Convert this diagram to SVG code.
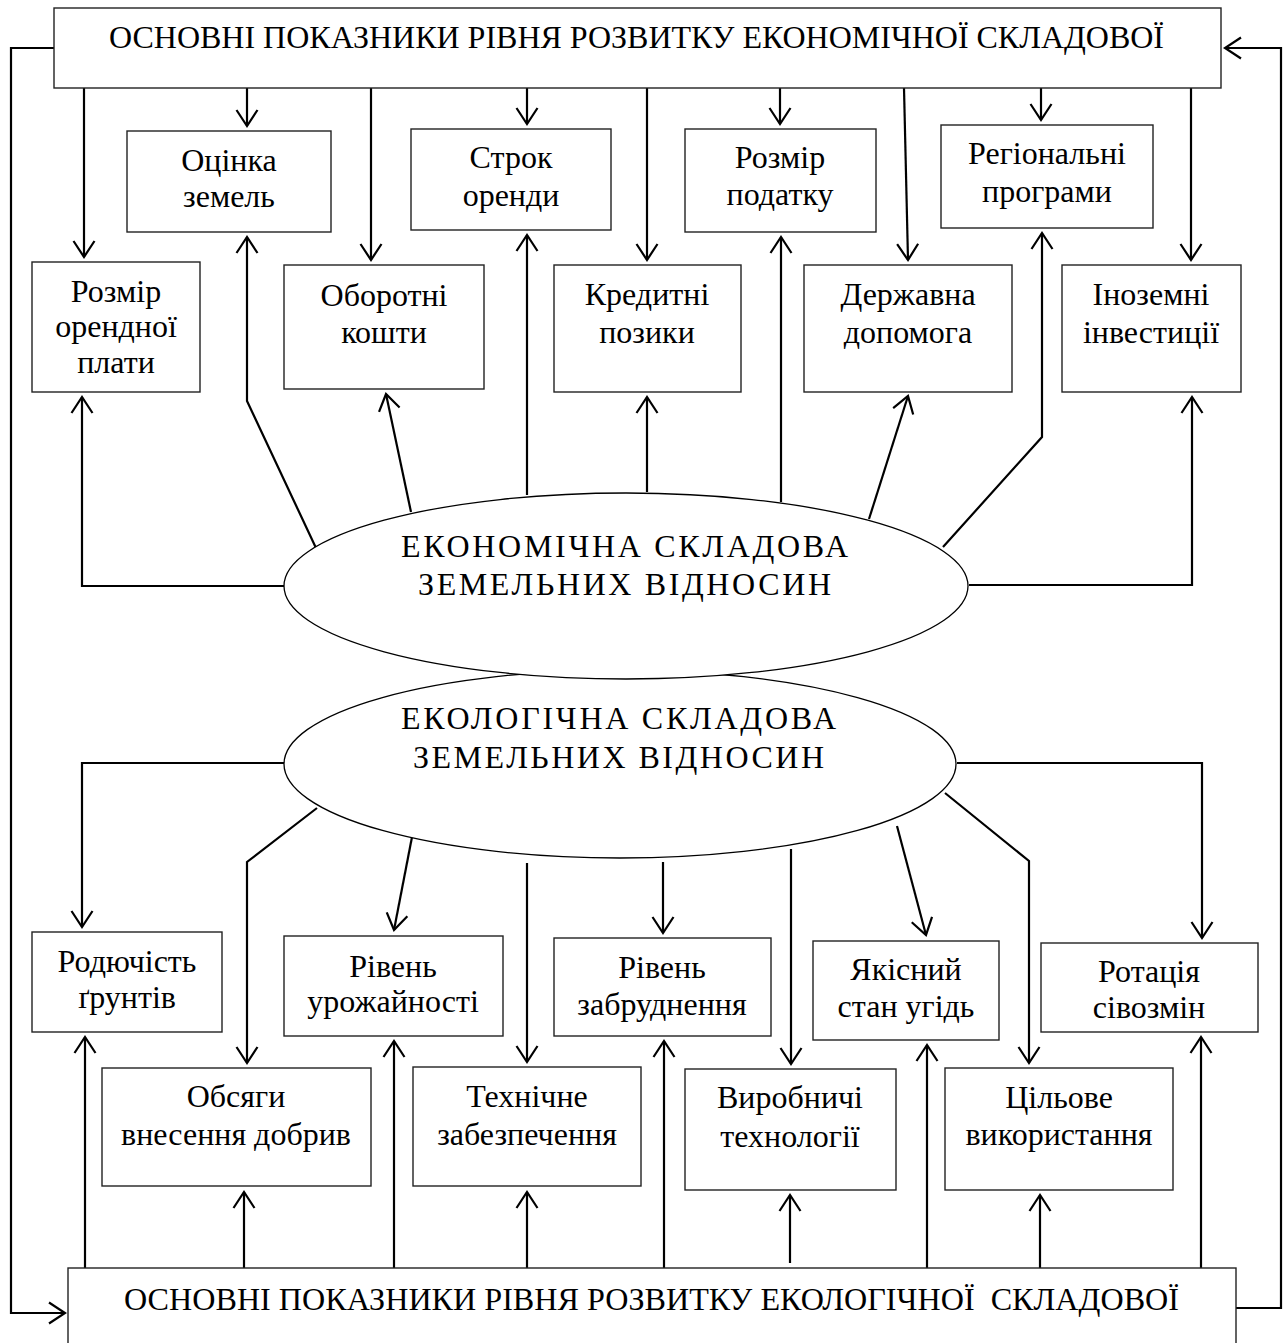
<svg xmlns="http://www.w3.org/2000/svg" width="1288" height="1343" viewBox="0 0 1288 1343">
  <style>
    .box { fill: #fff; stroke: #222; stroke-width: 1.4; }
    .ell { fill: #fff; stroke: #000; stroke-width: 1.3; }
    .lbl { font-family: "Liberation Serif", "Times New Roman", serif; font-size: 32px; fill: #000; text-anchor: middle; }
    .big { font-family: "Liberation Serif", "Times New Roman", serif; font-size: 32px; fill: #000; }
    .ctr { font-family: "Liberation Serif", "Times New Roman", serif; font-size: 32px; fill: #000; }
    .wire { fill: none; stroke: #000; stroke-width: 2.2; }
    .arr { marker-end: url(#open); }
  </style>
  <defs>
    <marker id="open" markerUnits="userSpaceOnUse" markerWidth="40" markerHeight="40" refX="0" refY="0" orient="auto" overflow="visible">
      <path d="M -16 -10.5 L 0 0 L -16 10.5" fill="none" stroke="#000" stroke-width="2.2"/>
    </marker>
  </defs>
  <rect width="1288" height="1343" fill="#fff"/>

  <!-- connectors -->
  <g id="connectors" class="wire">
    <!-- header of economic indicators down to the factor boxes -->
    <path class="arr" d="M84 88 V257"/>
    <path class="arr" d="M247 88 V126"/>
    <path class="arr" d="M371 88 V260"/>
    <path class="arr" d="M527 82 V124"/>
    <path class="arr" d="M647 88 V260"/>
    <path class="arr" d="M780 88 V124"/>
    <path class="arr" d="M904 88 L908 260"/>
    <path class="arr" d="M1041 88 V120"/>
    <path class="arr" d="M1191 88 V260"/>
    <!-- economic ellipse up to the factor boxes -->
    <path class="arr" d="M285 586 H82 V397"/>
    <path class="arr" d="M316 548 L247 401 V237"/>
    <path class="arr" d="M411 512 L386 394"/>
    <path class="arr" d="M527 495 V235"/>
    <path class="arr" d="M647 492 V397"/>
    <path class="arr" d="M781 502 V237"/>
    <path class="arr" d="M869 519 L908 396"/>
    <path class="arr" d="M943 547 L1042 437 V233"/>
    <path class="arr" d="M969 585 H1192 V397"/>
    <!-- ecological ellipse down to the factor boxes -->
    <path class="arr" d="M285 763 H82 V927"/>
    <path class="arr" d="M317 808 L247 862 V1063"/>
    <path class="arr" d="M412 837 L394 930"/>
    <path class="arr" d="M527 863 V1062"/>
    <path class="arr" d="M663 862 V933"/>
    <path class="arr" d="M791 849 V1064"/>
    <path class="arr" d="M897 826 L926 935"/>
    <path class="arr" d="M945 793 L1029 861 V1063"/>
    <path class="arr" d="M957 763 H1202 V938"/>
    <!-- footer of ecological indicators up to the factor boxes -->
    <path class="arr" d="M85 1268 V1037"/>
    <path class="arr" d="M244 1268 V1192"/>
    <path class="arr" d="M394 1268 V1041"/>
    <path class="arr" d="M527 1268 V1192"/>
    <path class="arr" d="M664 1268 V1041"/>
    <path class="arr" d="M790 1263 V1195"/>
    <path class="arr" d="M927 1268 V1045"/>
    <path class="arr" d="M1040 1268 V1195"/>
    <path class="arr" d="M1201 1268 V1037"/>
    <!-- feedback loops between header and footer -->
    <path class="arr" d="M54 48 H11 V1313 H65"/>
    <path class="arr" d="M1236 1308 H1281 V48 H1225"/>
  </g>

  <!-- header -->
  <g id="econ-header">
    <rect class="box" x="54" y="8" width="1167" height="80"/>
    <text class="big" x="109" y="48" textLength="1055" lengthAdjust="spacingAndGlyphs">ОСНОВНІ ПОКАЗНИКИ РІВНЯ РОЗВИТКУ ЕКОНОМІЧНОЇ СКЛАДОВОЇ</text>
  </g>

  <!-- economic factors, upper row -->
  <g id="land-valuation">
    <rect class="box" x="127" y="131" width="204" height="101"/>
    <text class="lbl" x="229" y="171">Оцінка</text>
    <text class="lbl" x="229" y="207">земель</text>
  </g>
  <g id="lease-term">
    <rect class="box" x="411" y="129" width="200" height="101"/>
    <text class="lbl" x="511" y="168">Строк</text>
    <text class="lbl" x="511" y="206">оренди</text>
  </g>
  <g id="tax-amount">
    <rect class="box" x="685" y="129" width="191" height="103"/>
    <text class="lbl" x="780" y="168">Розмір</text>
    <text class="lbl" x="780" y="205">податку</text>
  </g>
  <g id="regional-programs">
    <rect class="box" x="941" y="125" width="212" height="103"/>
    <text class="lbl" x="1047" y="164">Регіональні</text>
    <text class="lbl" x="1047" y="202">програми</text>
  </g>

  <!-- economic factors, lower row -->
  <g id="rent-amount">
    <rect class="box" x="32" y="262" width="168" height="130"/>
    <text class="lbl" x="116" y="302">Розмір</text>
    <text class="lbl" x="116" y="337">орендної</text>
    <text class="lbl" x="116" y="373">плати</text>
  </g>
  <g id="working-capital">
    <rect class="box" x="284" y="265" width="200" height="124"/>
    <text class="lbl" x="384" y="306">Оборотні</text>
    <text class="lbl" x="384" y="343">кошти</text>
  </g>
  <g id="credit-loans">
    <rect class="box" x="554" y="265" width="187" height="127"/>
    <text class="lbl" x="647" y="305">Кредитні</text>
    <text class="lbl" x="647" y="343">позики</text>
  </g>
  <g id="state-aid">
    <rect class="box" x="804" y="265" width="208" height="127"/>
    <text class="lbl" x="908" y="305">Державна</text>
    <text class="lbl" x="908" y="343">допомога</text>
  </g>
  <g id="foreign-investment">
    <rect class="box" x="1062" y="265" width="179" height="127"/>
    <text class="lbl" x="1151" y="305">Іноземні</text>
    <text class="lbl" x="1151" y="343">інвестиції</text>
  </g>

  <!-- central ellipses (ecological first, economic overlaps it) -->
  <g id="ecological-component">
    <ellipse class="ell" cx="620" cy="764" rx="336" ry="94"/>
    <text class="ctr" x="401" y="729" textLength="435" lengthAdjust="spacing">ЕКОЛОГІЧНА СКЛАДОВА</text>
    <text class="ctr" x="413" y="768" textLength="411" lengthAdjust="spacing">ЗЕМЕЛЬНИХ ВІДНОСИН</text>
  </g>
  <g id="economic-component">
    <ellipse class="ell" cx="626" cy="586" rx="342" ry="93"/>
    <text class="ctr" x="401" y="557" textLength="447" lengthAdjust="spacing">ЕКОНОМІЧНА СКЛАДОВА</text>
    <text class="ctr" x="418" y="595" textLength="413" lengthAdjust="spacing">ЗЕМЕЛЬНИХ ВІДНОСИН</text>
  </g>

  <!-- ecological factors, upper row -->
  <g id="soil-fertility">
    <rect class="box" x="32" y="932" width="190" height="100"/>
    <text class="lbl" x="127" y="972">Родючість</text>
    <text class="lbl" x="127" y="1008">ґрунтів</text>
  </g>
  <g id="yield-level">
    <rect class="box" x="284" y="936" width="219" height="100"/>
    <text class="lbl" x="393" y="977">Рівень</text>
    <text class="lbl" x="393" y="1012">урожайності</text>
  </g>
  <g id="pollution-level">
    <rect class="box" x="554" y="938" width="217" height="98"/>
    <text class="lbl" x="662" y="978">Рівень</text>
    <text class="lbl" x="662" y="1015">забруднення</text>
  </g>
  <g id="land-quality">
    <rect class="box" x="813" y="941" width="186" height="99"/>
    <text class="lbl" x="906" y="980">Якісний</text>
    <text class="lbl" x="906" y="1017">стан угідь</text>
  </g>
  <g id="crop-rotation">
    <rect class="box" x="1041" y="943" width="217" height="89"/>
    <text class="lbl" x="1149" y="982">Ротація</text>
    <text class="lbl" x="1149" y="1018">сівозмін</text>
  </g>

  <!-- ecological factors, lower row -->
  <g id="fertilizer-volume">
    <rect class="box" x="102" y="1068" width="269" height="118"/>
    <text class="lbl" x="236" y="1107">Обсяги</text>
    <text class="lbl" x="236" y="1145">внесення добрив</text>
  </g>
  <g id="technical-support">
    <rect class="box" x="413" y="1067" width="228" height="119"/>
    <text class="lbl" x="527" y="1107">Технічне</text>
    <text class="lbl" x="527" y="1145">забезпечення</text>
  </g>
  <g id="production-tech">
    <rect class="box" x="685" y="1069" width="211" height="121"/>
    <text class="lbl" x="790" y="1108">Виробничі</text>
    <text class="lbl" x="790" y="1147">технології</text>
  </g>
  <g id="intended-use">
    <rect class="box" x="945" y="1068" width="228" height="122"/>
    <text class="lbl" x="1059" y="1108">Цільове</text>
    <text class="lbl" x="1059" y="1145">використання</text>
  </g>

  <!-- footer -->
  <g id="eco-footer">
    <rect class="box" x="68" y="1268" width="1168" height="90"/>
    <text class="big" x="124" y="1310" textLength="1055" lengthAdjust="spacingAndGlyphs" xml:space="preserve">ОСНОВНІ ПОКАЗНИКИ РІВНЯ РОЗВИТКУ ЕКОЛОГІЧНОЇ  СКЛАДОВОЇ</text>
  </g>
</svg>
